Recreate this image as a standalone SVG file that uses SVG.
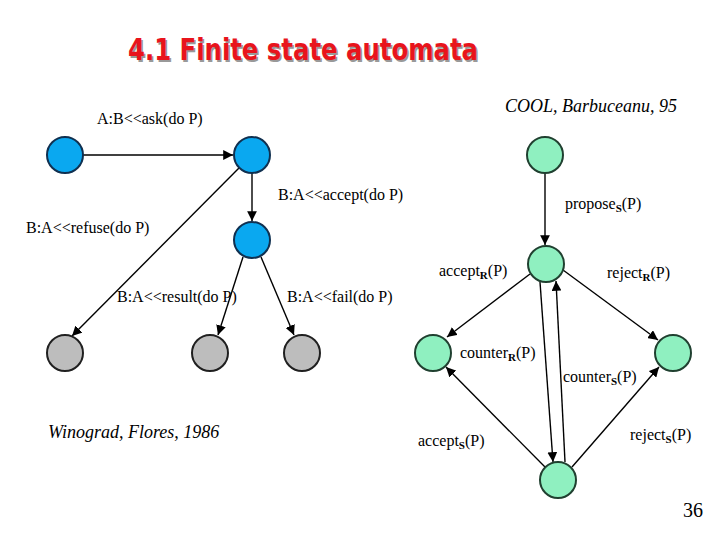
<svg xmlns="http://www.w3.org/2000/svg" width="720" height="540" viewBox="0 0 720 540">
<defs>
<marker id="a" viewBox="0 0 10 10" refX="10" refY="5" markerWidth="7" markerHeight="7" orient="auto"><path d="M0,0 L10,5 L0,10 z" fill="#000"/></marker>
</defs>
<rect width="720" height="540" fill="#fff"/>
<g font-family="'DejaVu Sans Condensed', sans-serif" font-weight="bold" font-size="30">
<text x="129.5" y="61.5" fill="#999" textLength="350" lengthAdjust="spacingAndGlyphs">4.1 Finite state automata</text>
<text x="128" y="60" fill="#e8141c" textLength="350" lengthAdjust="spacingAndGlyphs">4.1 Finite state automata</text>
</g>
<g id="connectors" stroke="#000" stroke-width="1.4" fill="none" marker-end="url(#a)">
<line x1="83" y1="155" x2="233" y2="155"/>
<line x1="252" y1="173" x2="252" y2="221"/>
<line x1="239" y1="168" x2="72" y2="336"/>
<line x1="243" y1="257" x2="218" y2="335"/>
<line x1="261" y1="257" x2="294" y2="335"/>
<line x1="545" y1="173" x2="545" y2="245"/>
<line x1="530" y1="274" x2="447" y2="337"/>
<line x1="563" y1="270" x2="658" y2="340"/>
<line x1="540" y1="282" x2="553" y2="462"/>
<line x1="565" y1="462" x2="556" y2="281"/>
<line x1="546" y1="468" x2="446" y2="367"/>
<line x1="572" y1="467" x2="659" y2="367"/>
</g>
<g stroke-width="2">
<g id="n1"><circle fill="#0aa8f0" stroke="#103050" cx="65" cy="155" r="18"/></g>
<g id="n2"><circle fill="#0aa8f0" stroke="#103050" cx="252" cy="155" r="18"/></g>
<g id="n3"><circle fill="#0aa8f0" stroke="#103050" cx="252" cy="240" r="18"/></g>
<g id="g1"><circle fill="#bdbdbd" stroke="#202020" cx="65" cy="353" r="18"/></g>
<g id="g2"><circle fill="#bdbdbd" stroke="#202020" cx="210" cy="353" r="18"/></g>
<g id="g3"><circle fill="#bdbdbd" stroke="#202020" cx="302" cy="353" r="18"/></g>
<g id="m1"><circle fill="#8ff0c0" stroke="#204030" cx="545" cy="155" r="18"/></g>
<g id="m2"><circle fill="#8ff0c0" stroke="#204030" cx="546" cy="264" r="18"/></g>
<g id="m3"><circle fill="#8ff0c0" stroke="#204030" cx="433" cy="353" r="18"/></g>
<g id="m4"><circle fill="#8ff0c0" stroke="#204030" cx="673" cy="353" r="18"/></g>
<g id="m5"><circle fill="#8ff0c0" stroke="#204030" cx="558" cy="480" r="18"/></g>
</g>
<g font-family="'Liberation Serif', serif" font-size="16" fill="#000">
<text x="97" y="124">A:B&lt;&lt;ask(do P)</text>
<text x="505" y="112" font-style="italic" font-size="18">COOL, Barbuceanu, 95</text>
<text x="278" y="200">B:A&lt;&lt;accept(do P)</text>
<text x="565" y="209">propose<tspan font-size="11" font-weight="bold" dy="3">S</tspan><tspan dy="-3">(P)</tspan></text>
<text x="26" y="233">B:A&lt;&lt;refuse(do P)</text>
<text x="439" y="276">accept<tspan font-size="11" font-weight="bold" dy="3">R</tspan><tspan dy="-3">(P)</tspan></text>
<text x="607" y="278">reject<tspan font-size="11" font-weight="bold" dy="3">R</tspan><tspan dy="-3">(P)</tspan></text>
<text x="117" y="302">B:A&lt;&lt;result(do P)</text>
<text x="287" y="302">B:A&lt;&lt;fail(do P)</text>
<text x="460" y="358">counter<tspan font-size="11" font-weight="bold" dy="3">R</tspan><tspan dy="-3">(P)</tspan></text>
<text x="563" y="382">counter<tspan font-size="11" font-weight="bold" dy="3">S</tspan><tspan dy="-3">(P)</tspan></text>
<text x="48" y="438" font-style="italic" font-size="18">Winograd, Flores, 1986</text>
<text x="418" y="446">accept<tspan font-size="11" font-weight="bold" dy="3">S</tspan><tspan dy="-3">(P)</tspan></text>
<text x="630" y="440">reject<tspan font-size="11" font-weight="bold" dy="3">S</tspan><tspan dy="-3">(P)</tspan></text>
<text x="683" y="517" font-size="20">36</text>
</g>
</svg>
